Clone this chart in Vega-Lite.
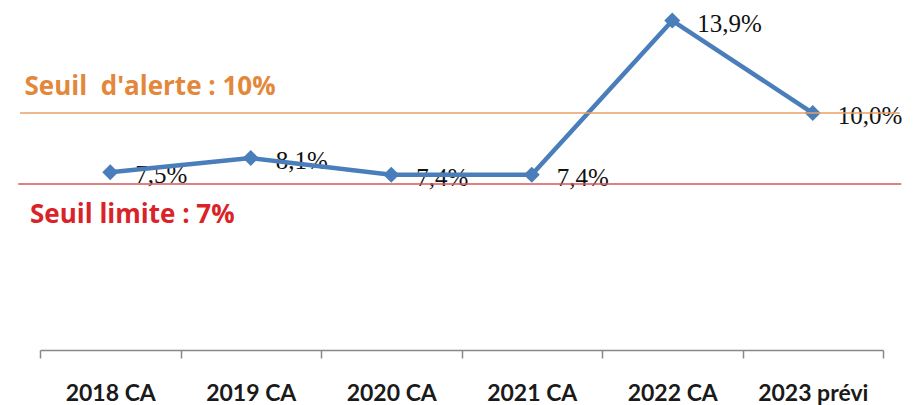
{
  "$schema": "https://vega.github.io/schema/vega-lite/v6.json",
  "width": 843,
  "height": 350,
  "autosize": "none",
  "padding": {"left": 40, "top": 0, "right": 31, "bottom": 55},
  "background": "white",
  "config": {"view": {"stroke": null}},
  "datasets": {
    "series": [
      {"annee": "2018 CA", "taux": 7.5, "label": "7,5%"},
      {"annee": "2019 CA", "taux": 8.1, "label": "8,1%"},
      {"annee": "2020 CA", "taux": 7.4, "label": "7,4%"},
      {"annee": "2021 CA", "taux": 7.4, "label": "7,4%"},
      {"annee": "2022 CA", "taux": 13.9, "label": "13,9%"},
      {"annee": "2023 prévi", "taux": 10.0, "label": "10,0%"}
    ],
    "seuils": [
      {"seuil": "alerte", "valeur": 10, "texte": "Seuil\u00a0 d'alerte : 10%", "debut": "2018 CA", "fin": "2023 prévi"},
      {"seuil": "limite", "valeur": 7, "texte": "Seuil limite : 7%", "debut": "2018 CA", "fin": "2023 prévi"}
    ]
  },
  "layer": [
    {
      "data": {"name": "series"},
      "mark": {"type": "text", "align": "left", "baseline": "alphabetic", "dx": 25, "dy": 11, "font": "Liberation Serif", "fontSize": 25, "color": "#111111"},
      "encoding": {
        "x": {
          "field": "annee", "type": "nominal", "sort": null,
          "scale": {"paddingInner": 0, "paddingOuter": 0},
          "axis": {
            "title": null, "labelAngle": 0, "domainColor": "#888888", "domainWidth": 1.5,
            "tickColor": "#888888", "tickWidth": 1.5, "tickSize": 8, "tickBand": "extent",
            "labelFont": "Lato", "labelFontWeight": "bold", "labelFontSize": 23, "labelColor": "#1a1a1a",
            "labelPadding": 24
          }
        },
        "y": {
          "field": "taux", "type": "quantitative",
          "scale": {"domain": [0, 14.77], "nice": false, "zero": false},
          "axis": null
        },
        "text": {"field": "label"}
      }
    },
    {
      "data": {"name": "series"},
      "mark": {"type": "line", "color": "#4A7EBB", "strokeWidth": 4.5, "point": {"shape": "diamond", "size": 256, "filled": true, "color": "#4A7EBB", "opacity": 1}},
      "encoding": {
        "x": {"field": "annee", "type": "nominal", "sort": null},
        "y": {"field": "taux", "type": "quantitative"}
      }
    },
    {
      "data": {"name": "seuils"},
      "transform": [{"filter": "datum.seuil === 'alerte'"}],
      "mark": {"type": "rule", "color": "#E9A063", "strokeWidth": 1.5, "clip": false},
      "encoding": {
        "x": {"field": "debut", "type": "nominal", "bandPosition": -0.142},
        "x2": {"field": "fin", "bandPosition": 1.12},
        "y": {"field": "valeur", "type": "quantitative"}
      }
    },
    {
      "data": {"name": "seuils"},
      "transform": [{"filter": "datum.seuil === 'limite'"}],
      "mark": {"type": "rule", "color": "#D0585A", "strokeWidth": 1.5, "clip": false},
      "encoding": {
        "x": {"field": "debut", "type": "nominal", "bandPosition": -0.155},
        "x2": {"field": "fin", "bandPosition": 1.13},
        "y": {"field": "valeur", "type": "quantitative"}
      }
    },
    {
      "data": {"name": "seuils"},
      "transform": [{"filter": "datum.seuil === 'alerte'"}],
      "mark": {"type": "text", "align": "left", "baseline": "alphabetic", "dy": -18, "font": "Open Sans", "fontWeight": "bold", "fontSize": 26, "color": "#E3883A"},
      "encoding": {
        "x": {"field": "debut", "type": "nominal", "bandPosition": -0.11},
        "y": {"field": "valeur", "type": "quantitative"},
        "text": {"field": "texte"}
      }
    },
    {
      "data": {"name": "seuils"},
      "transform": [{"filter": "datum.seuil === 'limite'"}],
      "mark": {"type": "text", "align": "left", "baseline": "alphabetic", "dy": 39, "font": "Open Sans", "fontWeight": "bold", "fontSize": 26, "color": "#D92329"},
      "encoding": {
        "x": {"field": "debut", "type": "nominal", "bandPosition": -0.071},
        "y": {"field": "valeur", "type": "quantitative"},
        "text": {"field": "texte"}
      }
    }
  ]
}
